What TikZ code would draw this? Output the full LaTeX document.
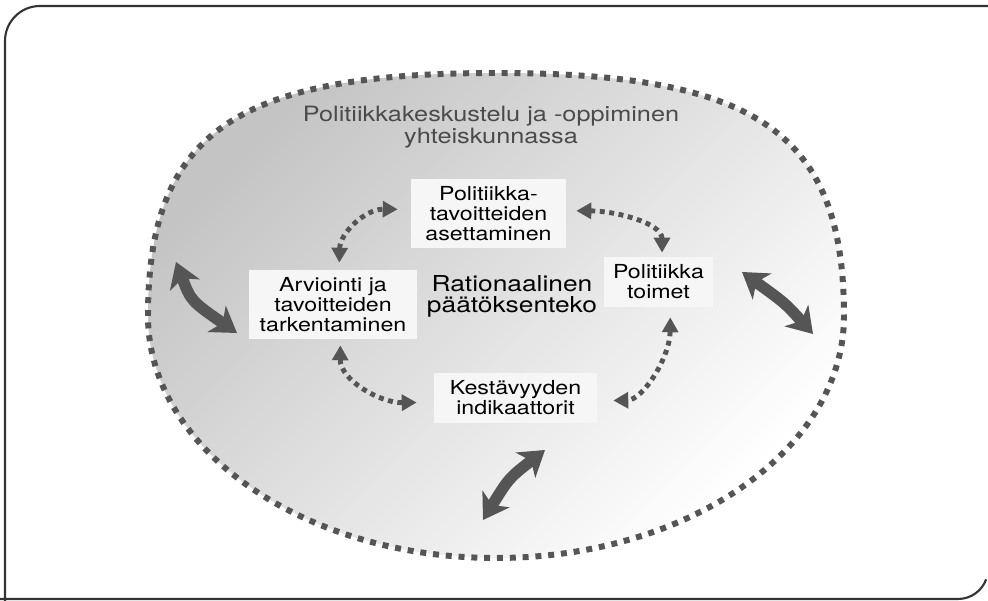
\documentclass[tikz,border=0pt]{standalone}
\usepackage{fontspec}
\setmainfont{TeX Gyre Heros}[FakeStretch=1.2]
\usepackage{tikz}
\usetikzlibrary{arrows.meta,shapes.geometric,positioning}
\definecolor{tumma}{RGB}{85,85,85}
\definecolor{kehys}{RGB}{51,51,51}
\definecolor{otsikko}{RGB}{75,75,75}
\definecolor{pohja}{RGB}{246,246,246}
\definecolor{varjo}{RGB}{196,196,196}
\tikzset{
>={Triangle[length=8.5pt,width=9pt]},
  laatikko/.style={
    rectangle,
    fill=pohja,
    inner sep=0pt,
    align=center,
    font=\fontsize{11}{11.4}\selectfont},
  pisteviiva/.style={draw=tumma, line width=2.8pt, dash pattern=on 2.8pt off 2.6pt, <->},
  paksunuoli/.style={draw=tumma, line width=6.5pt,
    {Stealth[length=14pt,width=18pt,inset=4pt]}-{Stealth[length=14pt,width=18pt,inset=4pt]}},
  kehysviiva/.style={draw=kehys, line width=1.2pt},
  soikio/.style={draw=tumma, line width=3.4pt, dash pattern=on 3.4pt off 3.9pt,
    top color=varjo, bottom color=white, shading angle=45},
}

\begin{document}
\begin{tikzpicture}[x=0.02cm, y=0.02cm]
  \useasboundingbox (0,0) rectangle (988,601);
  % kehys
  \draw[kehysviiva] (5,0) -- (5,560) arc[start angle=180, end angle=90, radius=35] -- (988,595);
  \draw[kehysviiva] (0,2) -- (958,2) arc[start angle=-90, end angle=-20, radius=30];
  % yhteiskunta
  \draw[soikio] (148,285) .. controls (148,468) and (235,528) .. (496,528)
    .. controls (757,528) and (844,468) .. (844,285)
    arc[start angle=0, end angle=-180, x radius=348, y radius=242] -- cycle;
  \node[text=otsikko, align=center, font=\fontsize{12}{11.2}\selectfont] (keskustelu) at (491,474)
    {Politiikkakeskustelu ja -oppiminen\\yhteiskunnassa};
  \node[align=center, font=\fontsize{12.5}{12}\selectfont] (rationaalinen) at (512,305)
    {Rationaalinen\\päätöksenteko};
  % vaiheet
  \node[laatikko, minimum width=3.1cm, minimum height=1.38cm] (tavoitteet) at (488.5,387.5)
    {Politiikka-\\tavoitteiden\\asettaminen};
  \node[laatikko, minimum width=2.18cm, minimum height=1cm] (toimet) at (658.5,319)
    {Politiikka\\toimet};
  \node[laatikko, minimum width=3.26cm, minimum height=1cm] (indikaattorit) at (515.5,203)
    {Kestävyyden\\indikaattorit};
  \node[laatikko, minimum width=3.36cm, minimum height=1.38cm] (arviointi) at (333,296.5)
    {Arviointi ja\\tavoitteiden\\tarkentaminen};
  % kierto
  \draw[pisteviiva, shorten <=0.14cm, shorten >=0.26cm]
    (arviointi.80) .. controls (340,368) and (365,392) .. (tavoitteet.177);
  \draw[pisteviiva, shorten <=0.2cm, shorten >=0.08cm]
    (tavoitteet.2) .. controls (616,390) and (662,378) .. (toimet.82);
  \draw[pisteviiva, shorten <=0.2cm, shorten >=0.32cm]
    (toimet.-65) .. controls (670,244) and (643,201) .. (indikaattorit.-2);
  \draw[pisteviiva, shorten <=0.12cm, shorten >=0.34cm]
    (arviointi.-78) .. controls (340,221) and (380,198) .. (indikaattorit.183);
  % vuorovaikutus
  \coordinate (vasen1) at (176,339);
  \coordinate (vasen2) at (237,268);
  \coordinate (oikea1) at (742,329);
  \coordinate (oikea2) at (813,267);
  \coordinate (ala1) at (545,151);
  \coordinate (ala2) at (483,81);
  \draw[paksunuoli] (vasen1) .. controls (191,300) .. (vasen2);
  \draw[paksunuoli] (oikea1) .. controls (785,298) .. (oikea2);
  \draw[paksunuoli] (ala1) .. controls (509,123) .. (ala2);
\end{tikzpicture}
\end{document}
